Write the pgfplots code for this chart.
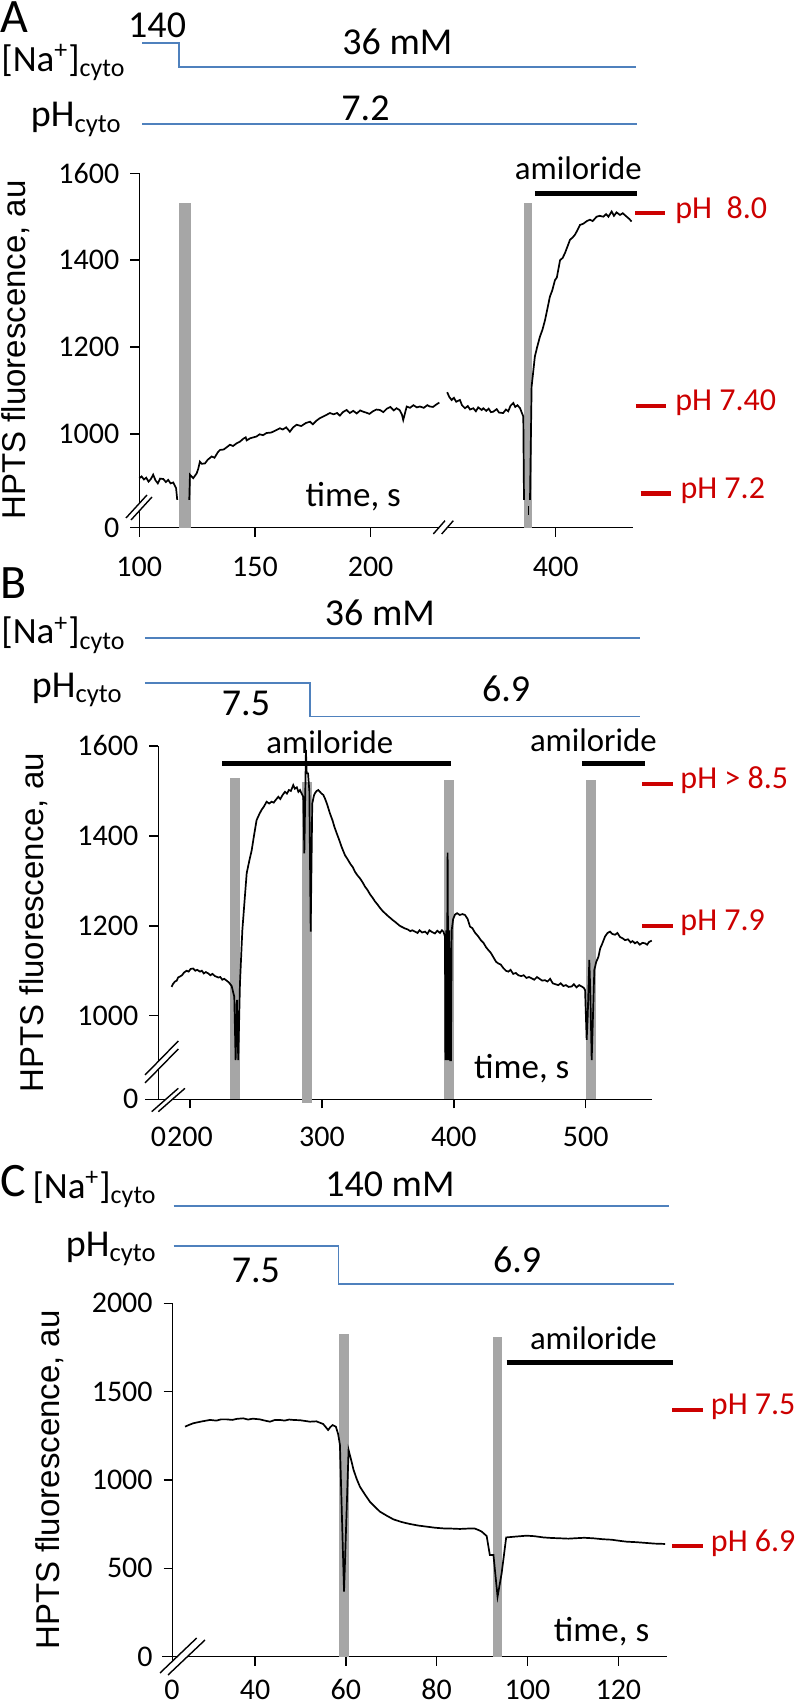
\documentclass[border=0pt]{standalone}
\usepackage{fontspec}
\setmainfont{Carlito}
\newfontfamily\arialf{Liberation Sans}
\usepackage{pgfplots}
\pgfplotsset{compat=1.18}

\definecolor{protoblue}{RGB}{79,129,189}
\definecolor{bargray}{RGB}{166,166,166}
\definecolor{phred}{RGB}{204,0,0}

\newcommand{\naL}{[Na\textsuperscript{+}]\textsubscript{cyto}}
\newcommand{\phL}{pH\textsubscript{cyto}}

\pgfplotsset{
  panel/.style={
    scale only axis, enlargelimits=false, clip=false,
    axis x line=bottom, axis y line=left,
    axis line style={-, line width=0.75pt, black},
    every inner x axis line/.append style={-},
    every inner y axis line/.append style={-},
    tick align=outside, major tick length=4.5pt,
    tick style={line width=0.75pt, black},
    ticklabel style={font=\fontsize{15}{18}\selectfont},
    xticklabels={},
    yticklabel style={xshift=-2pt},
    anchor=south west,
  },
  trace/.style={black, line width=0.85pt, no markers},
  gbar/.style={fill=bargray, draw=none},
  amil/.style={black, line width=2.4pt, no markers},
  proto/.style={protoblue, line width=0.9pt, no markers},
  phmark/.style={phred, line width=2.2pt, no markers},
}
\tikzset{
  ptext/.style={font=\fontsize{19}{22}\selectfont, inner sep=0pt},
  ltext/.style={font=\fontsize{18.5}{22}\selectfont, inner sep=0pt},
  atext/.style={font=\fontsize{16.4}{19}\selectfont, inner sep=0pt, anchor=base},
  ttext/.style={font=\fontsize{17.5}{20}\selectfont, inner sep=0pt, anchor=base},
  rtext/.style={font=\fontsize{16}{19}\selectfont, text=phred, inner sep=0pt, anchor=mid west},
  ylab/.style={font=\arialf\fontsize{16.5}{19}\selectfont, rotate=90, inner sep=0pt},
  plab/.style={font=\fontsize{24}{26}\selectfont, inner sep=0pt, anchor=base west},
  xtl/.style={font=\fontsize{15}{18}\selectfont, inner sep=0pt, anchor=base},
}

\begin{document}
\begin{tikzpicture}[x=0.5pt,y=0.5pt]
\path[use as bounding box] (0,0) rectangle (796,1706);

%================ PANEL A =================
\node[plab] at (0,1673) {A};
\node[ltext, anchor=base west] at (1,1634.6) {\naL};
\node[ptext, anchor=base east] at (122,1579) {\phL};
\node[ylab] at (16,1356) {HPTS fluorescence, au};

\begin{axis}[panel, at={(69.65pt,589.15pt)}, width=246.7pt, height=177.2pt,
  xmin=100, xmax=313.3, ymin=784, ymax=1600,
  xtick={100,150,200,280},
  ytick={784,1000,1200,1400,1600}, yticklabels={0,1000,1200,1400,1600}]
\addplot[gbar] coordinates {(117.3,784) (117.3,1531) (122.3,1531) (122.3,784)} -- cycle;
\addplot[gbar] coordinates {(266.5,784) (266.5,1531) (269.9,1531) (269.9,784)} -- cycle;
% x tick labels
\node[xtl] at (axis cs:100,671.2) {100};
\node[xtl] at (axis cs:150,671.2) {150};
\node[xtl] at (axis cs:200,671.2) {200};
\node[xtl] at (axis cs:280,671.2) {400};
% protocol
\addplot[proto] coordinates {(101.2,1900) (117.2,1900) (117.2,1845) (314.7,1845)};
\addplot[proto] coordinates {(101.2,1713.5) (315.1,1713.5)};
\node[ptext, anchor=base] at (axis cs:107.7,1912.7) {140};
\node[ptext, anchor=base] at (axis cs:211.6,1872.4) {36 mM};
\node[ptext, anchor=base] at (axis cs:197.8,1720.5) {7.2};
% amiloride
\addplot[amil] coordinates {(271,1554) (315,1554)};
\node[atext] at (axis cs:289.8,1584.6) {amiloride};
% pH markers
\addplot[phmark] coordinates {(314.3,1508) (327.3,1508)};
\addplot[phmark] coordinates {(314.7,1064) (327.7,1064)};
\addplot[phmark] coordinates {(316.7,863) (329.9,863)};
\node[rtext] at (axis cs:331.6,1508) {pH\ \ 8.0};
\node[rtext] at (axis cs:331.6,1064) {pH 7.40};
\node[rtext] at (axis cs:333.8,863) {pH 7.2};
\node[ttext] at (axis cs:192.5,832) {time, s};
% trace
\addplot[trace] coordinates {(100,898) (101,902) (102,895) (103,899) (104,890) (105,896) (106,906) (107,893) (108,886) (109,897) (110.4,896) (111.5,889) (112.5,894) (113.5,886) (114.7,888) (115.9,875) (116.4,848)};
\addplot[trace] coordinates {(121.6,848) (121.9,906) (123.3,898) (124.8,909) (125.5,920) (126.2,936) (127,931) (128.4,932) (129.5,940) (131.3,948) (132.5,945) (134,958) (134.9,963) (136.5,964) (138,970) (139.2,975) (140.5,972) (142,978) (143.5,982) (145,989) (146,992) (146.4,985) (148,990) (150.7,994) (152,999) (153.5,997) (155,1002) (157,1003) (159,1008) (160.8,1013) (162,1010) (163.5,1015) (165.1,1005) (166.5,1015) (168,1021) (170,1018) (172,1025) (173.8,1028) (175,1022) (176.5,1030) (178,1036) (179.5,1040) (181,1044) (182.4,1048) (184,1045) (185.5,1048) (186.7,1042) (188,1050) (189.6,1055) (191,1048) (192.5,1053) (194,1047) (195.5,1054) (196.8,1051) (198,1049) (199.5,1046) (201,1052) (202.5,1056) (204,1055) (205.5,1050) (207,1058) (208.5,1062) (210,1054) (211.2,1059) (212.5,1055) (213.5,1045) (214.1,1032) (215.6,1063) (217,1060) (218.5,1066) (220,1061) (221.3,1063) (223,1060) (224.5,1066) (225.6,1063) (227,1062) (228.5,1068) (229.7,1072)};
\addplot[trace] coordinates {(233.1,1096) (234,1085) (235,1078) (236,1083) (237,1074) (238.6,1078) (239.5,1066) (240.8,1059) (242,1064) (243,1056) (244.4,1059) (245.5,1052) (246.5,1061) (248,1055) (248.7,1059) (250,1053) (251,1058) (252,1050) (253,1051) (254.5,1057) (255.5,1049) (257.3,1048) (258.5,1056) (259.5,1052) (260.5,1065) (261.7,1071) (262.5,1062) (263.5,1066) (264.6,1059) (266,1040) (266.3,848)};
\addplot[trace] coordinates {(268.2,833) (268.2,814)};
\addplot[trace] coordinates {(268.9,848) (269.6,1109) (271,1178) (272,1200) (273.2,1224) (274.3,1240) (275.4,1262) (276.5,1290) (277.5,1316) (278.5,1330) (279.7,1354) (280.5,1360) (281.9,1400) (283,1405) (284,1416) (285,1430) (286.2,1447) (287.3,1452) (288.4,1459) (289.5,1470) (290.5,1481) (292,1484) (293.5,1490) (294.8,1493) (296,1490) (297.7,1500) (299,1502) (300.6,1500) (301.8,1506) (302.8,1500) (304.2,1512) (305.2,1502) (306.3,1510) (307.8,1504) (309,1508) (310.7,1500) (311.8,1495) (312.8,1489)};
\end{axis}
% breaks A
\path[fill=white] (126,1188) -- (147,1211) -- (152,1209) -- (131,1186) -- cycle;
\draw[line width=0.7pt] (126,1188) -- (147,1211);
\draw[line width=0.7pt] (131,1186) -- (152,1209);
\path[fill=white] (433.3,1172) -- (445,1185.3) -- (453.3,1185.3) -- (441.7,1172) -- cycle;
\draw[line width=0.7pt] (433.3,1172) -- (445,1185.3);
\draw[line width=0.7pt] (441.7,1172) -- (453.3,1185.3);

%================ PANEL B =================
\node[plab] at (0,1107) {B};
\node[ltext, anchor=base west] at (1,1062) {\naL};
\node[ptext, anchor=base east] at (123,1008.5) {\phL};
\node[ylab] at (34,783.4) {HPTS fluorescence, au};

\begin{axis}[panel, at={(79.15pt,303.35pt)}, width=246.7pt, height=176.65pt,
  xmin=176, xmax=550, ymin=814, ymax=1600,
  xtick={200,300,400,500},
  ytick={814,1000,1200,1400,1600}, yticklabels={0,1000,1200,1400,1600}]
\addplot[gbar] coordinates {(230.3,814) (230.3,1528) (237.7,1528) (237.7,814)} -- cycle;
\addplot[gbar] coordinates {(284.7,805) (284.7,1520) (292.2,1520) (292.2,805)} -- cycle;
\addplot[gbar] coordinates {(392.6,814) (392.6,1524) (400.2,1524) (400.2,814)} -- cycle;
\addplot[gbar] coordinates {(500,814) (500,1524) (507.6,1524) (507.6,814)} -- cycle;
% x tick labels
\node[xtl] at (axis cs:176.1,708.5) {0};
\node[xtl] at (axis cs:200,708.5) {200};
\node[xtl] at (axis cs:300,708.5) {300};
\node[xtl] at (axis cs:400,708.5) {400};
\node[xtl] at (axis cs:500,708.5) {500};
% protocol
\addplot[proto] coordinates {(165.9,1840.5) (541.2,1840.5)};
\addplot[proto] coordinates {(165.9,1739.7) (290.7,1739.7) (290.7,1665.8) (541.2,1665.8)};
\node[ptext, anchor=base] at (axis cs:344,1867) {36 mM};
\node[ptext, anchor=base] at (axis cs:242.5,1668) {7.5};
\node[ptext, anchor=base] at (axis cs:439.6,1697.9) {6.9};
% amiloride
\addplot[amil] coordinates {(224.5,1561) (397.9,1561)};
\addplot[amil] coordinates {(497,1561) (545,1561)};
\node[atext] at (axis cs:306,1583.7) {amiloride};
\node[atext] at (axis cs:505.8,1587) {amiloride};
% pH markers
\addplot[phmark] coordinates {(542.7,1515) (565.9,1515)};
\addplot[phmark] coordinates {(542.7,1199.5) (565.9,1199.5)};
\node[rtext] at (axis cs:571.5,1515) {pH > 8.5};
\node[rtext] at (axis cs:571.5,1199.5) {pH 7.9};
\node[ttext] at (axis cs:451.5,860.7) {time, s};
% trace
\addplot[trace] coordinates {(186.1,1064) (187,1070) (188.6,1076) (190,1078) (191,1085) (192.4,1087) (194,1090) (195.5,1096) (197.5,1100) (199,1098) (200.5,1104) (202.5,1105) (204,1100) (205.5,1102) (207.6,1098) (209,1100) (210.5,1094) (212,1097) (213.9,1094) (215.5,1090) (217,1093) (219,1088) (221.5,1085) (223,1086) (224.5,1080) (226,1082) (227.8,1078) (229.5,1074) (231.6,1066) (233.6,1042) (234.6,901) (235.6,1035) (236.6,901) (237.9,1072) (239.7,1190) (241.5,1260) (243,1317) (245,1345) (246.8,1368) (248.5,1400) (250.5,1435) (252.5,1448) (254.3,1458) (256,1465) (258.1,1476) (260,1472) (261.9,1476) (263.5,1474) (265,1480) (267,1487) (268.5,1482) (270,1490) (272,1498) (273.5,1494) (275,1502) (276.5,1500) (278.3,1513) (279.5,1505) (281,1508) (282.2,1498) (283.4,1502) (284.5,1495) (285.9,1487) (286.7,1361) (287.9,1591) (288.5,1539) (289.5,1539) (290.5,1500) (291.5,1187) (292.7,1472) (294,1490) (294.8,1495) (296,1500) (297.3,1502) (298.5,1498) (299.8,1494) (301.1,1491) (302.5,1482) (304,1470) (306.1,1450) (308,1435) (309.5,1420) (311.2,1406) (313,1392) (315,1375) (317.5,1357) (319.5,1348) (321.5,1338) (323.5,1330) (325.1,1320) (327,1312) (329,1305) (331,1296) (332.7,1287) (334.5,1280) (336.5,1270) (338.5,1262) (340.3,1254) (342,1248) (344,1240) (346,1233) (347.8,1228) (350,1222) (352,1217) (354,1212) (355.4,1209) (357,1205) (359,1200) (361,1197) (363,1194) (365,1192) (367,1188) (368.5,1190) (370.6,1187) (372.5,1184) (374,1190) (376,1185) (378.2,1187) (380,1182) (381.5,1190) (383.5,1186) (385.7,1183) (387.5,1189) (389.5,1184) (391,1190) (392.1,1187) (393.3,1176) (393.6,901) (394.2,1190) (394.6,901) (395.3,1363) (396,901) (396.6,1190) (397.2,901) (397.8,901) (398.4,1190) (399.5,1215) (400.9,1225) (402.5,1228) (404.5,1224) (406.5,1226) (408.5,1224) (410.5,1215) (412.3,1198) (414,1195) (416,1185) (418.6,1176) (420.5,1168) (422.5,1162) (424.5,1152) (426.2,1146) (428,1140) (430,1130) (432,1120) (433.8,1116) (435.5,1114) (437.5,1106) (439.5,1100) (441.3,1098) (443,1102) (445,1093) (447,1095) (448.9,1090) (451,1088) (453,1090) (455,1084) (457,1086) (459,1083) (461,1080) (463,1086) (465,1082) (467,1078) (469.1,1079) (471,1076) (473,1082) (475,1072) (477,1070) (479.2,1068) (481,1072) (483,1066) (485,1068) (487,1064) (489.4,1065) (491,1070) (493,1063) (495,1068) (496.9,1065) (498.5,1062) (499.5,1057) (500.7,946) (501.5,1000) (502.7,1124) (503.5,1050) (504.5,901) (505.5,1000) (506.5,1102) (508,1120) (509.6,1131) (511,1150) (512.5,1160) (514.6,1176) (516.5,1184) (518.4,1187) (520,1182) (522.2,1180) (524,1184) (526,1175) (528,1172) (529.8,1168) (532,1170) (534,1163) (535.5,1166) (537.3,1161) (539,1164) (541,1158) (543,1162) (544.9,1161) (546.5,1158) (548,1164) (550,1167)};
\end{axis}
\draw[line width=0.75pt] (145,606.7) -- (158.3,606.7);
% breaks B
\path[fill=white] (145,631) -- (178.3,665) -- (178.3,657) -- (145,623) -- cycle;
\draw[line width=0.7pt] (145,631) -- (178.3,665);
\draw[line width=0.7pt] (145,623) -- (178.3,657);
\path[fill=white] (151.7,594.3) -- (178.3,617.7) -- (185,617.7) -- (158.3,594.3) -- cycle;
\draw[line width=0.7pt] (151.7,594.3) -- (178.3,617.7);
\draw[line width=0.7pt] (158.3,594.3) -- (185,617.7);

%================ PANEL C =================
\node[plab] at (0,509) {C};
\node[ltext, anchor=base east] at (157,507.5) {\naL};
\node[ptext, anchor=base east] at (157,449.6) {\phL};
\node[ylab] at (50,226) {HPTS fluorescence, au};

\begin{axis}[panel, at={(86.35pt,24.65pt)}, width=247pt, height=176.7pt,
  xmin=21.88, xmax=130.64, ymin=0, ymax=2000,
  xtick={21.88,40,60,80,100,120},
  ytick={0,500,1000,1500,2000}, yticklabels={0,500,1000,1500,2000}]
\addplot[gbar] coordinates {(58.6,0) (58.6,1825) (60.8,1825) (60.8,0)} -- cycle;
\addplot[gbar] coordinates {(92.3,0) (92.3,1811) (94.4,1811) (94.4,0)} -- cycle;
% x tick labels
\node[xtl] at (axis cs:21.7,-245) {0};
\node[xtl] at (axis cs:40,-245) {40};
\node[xtl] at (axis cs:60,-245) {60};
\node[xtl] at (axis cs:80,-245) {80};
\node[xtl] at (axis cs:100,-245) {100};
\node[xtl] at (axis cs:120,-245) {120};
% protocol
\addplot[proto] coordinates {(22.08,2550.6) (131.15,2550.6)};
\addplot[proto] coordinates {(22.08,2322.6) (58.4,2322.6) (58.4,2110.9) (132.25,2110.9)};
\node[ptext, anchor=base] at (axis cs:69.7,2603.9) {140 mM};
\node[ptext, anchor=base] at (axis cs:40.2,2117) {7.5};
\node[ptext, anchor=base] at (axis cs:97.7,2171.5) {6.9};
% amiloride
\addplot[amil] coordinates {(95.4,1664) (132.1,1664)};
\node[atext] at (axis cs:114.5,1739) {amiloride};
% pH markers
\addplot[phmark] coordinates {(131.9,1396) (138.6,1396)};
\addplot[phmark] coordinates {(131.9,625) (138.6,625)};
\node[rtext] at (axis cs:140.3,1396) {pH 7.5};
\node[rtext] at (axis cs:140.3,625) {pH 6.9};
\node[ttext] at (axis cs:116.3,85) {time, s};
% trace
\addplot[trace] coordinates {(24.6,1302) (25.5,1312) (26.4,1321) (28,1330) (30.1,1340) (31.5,1336) (32.5,1343) (33.8,1343) (35,1340) (36,1346) (37.4,1349) (38.5,1342) (39.5,1347) (41.1,1343) (42.2,1336) (43.3,1330) (44.4,1340) (45.5,1340) (46.5,1336) (47.5,1342) (48.4,1340) (50,1338) (52.1,1330) (53.5,1332) (55,1317) (56.1,1283) (56.6,1300) (57.1,1311) (57.8,1302) (58.3,1260) (58.7,1198) (59.6,368) (60.6,1170) (61.2,1110) (61.7,1057) (62.4,1005) (63.1,962) (64.2,918) (65.3,877) (66.4,848) (67.5,821) (69,798) (70.5,777) (72.3,762) (74.1,751) (76,742) (77.8,736) (79.6,730) (81.5,726) (83.3,725) (85.1,723) (86.8,725) (88.4,725) (89.1,718) (89.9,708) (91,683) (91.7,575) (92.5,575) (93.4,340) (94.3,472) (95.3,675) (97.5,680) (99.8,685) (101.5,682) (103.5,675) (105.2,672) (107.2,670) (109,668) (111,671) (112.5,673) (114.5,670) (116.5,665) (118.5,662) (120.5,655) (121.8,651) (124,648) (126,644) (128,640) (130.3,638)};
\end{axis}
\draw[line width=0.75pt] (162,49.3) -- (172.7,49.3);
% break C
\path[fill=white] (160,33) -- (196.7,68) -- (205,66) -- (168,31) -- cycle;
\draw[line width=0.7pt] (160,33) -- (196.7,68);
\draw[line width=0.7pt] (168,31) -- (205,66);
\end{tikzpicture}
\end{document}
